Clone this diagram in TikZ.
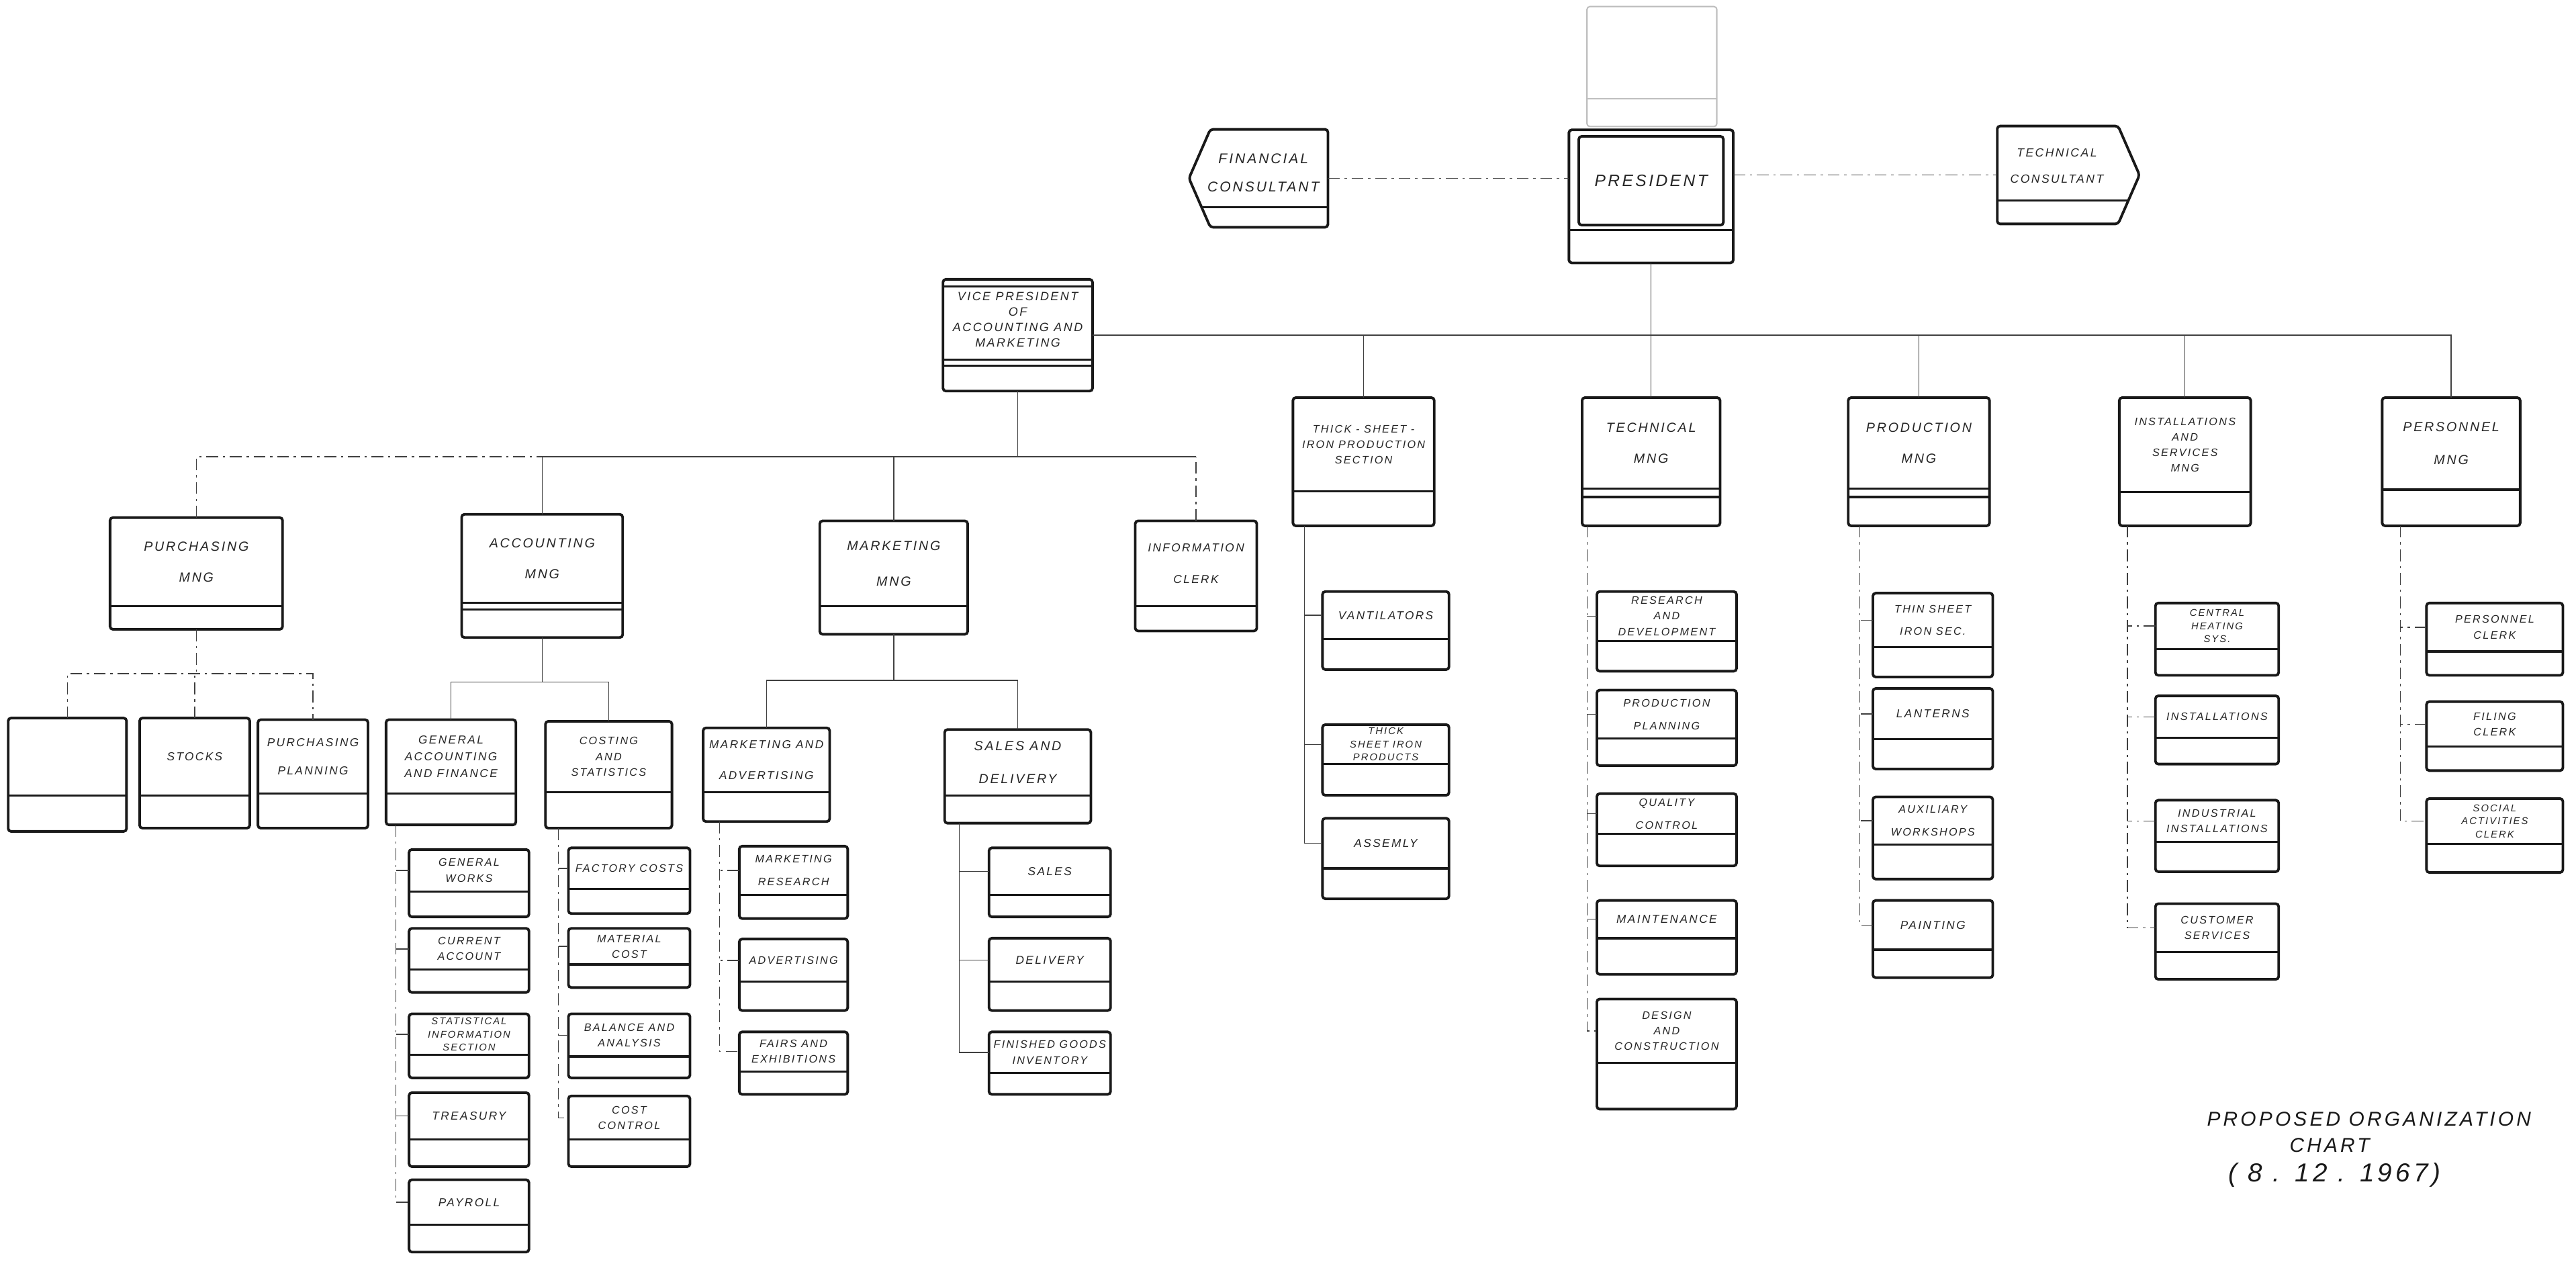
\documentclass[tikz,border=0pt]{standalone}
\usepackage{fontspec}
\newfontfamily\hand[LetterSpace=14]{Liberation Sans}
\usetikzlibrary{calc}
\newcommand\fs[2]{\fontsize{#1}{#2}\selectfont}
\tikzset{
  boxl/.style={line width=1.1pt, rounded corners=1.2pt, draw=black!90},
  obox/.style={boxl, rectangle, inner sep=0pt, outer sep=0pt},
  divl/.style={line width=0.9pt, black!90},
  conn/.style={line width=0.4pt, black!75},
  dconn/.style={conn, dash pattern=on 5pt off 2pt on 1pt off 2pt},
  lbl/.style={font=\hand\itshape\fs{5.6}{8}, align=center, inner sep=0pt, text=black!85},
  szs/.style={font=\hand\itshape\fs{4.9}{7.2}},
  szv/.style={font=\hand\itshape\fs{4.6}{6.6}},
  szt/.style={font=\hand\itshape\fs{4.2}{5.5}},
  ttl/.style={font=\hand\itshape\fs{8.5}{10}, inner sep=0pt, text=black!90},
}
% optional node options, name, x1, y1, x2, y2, divider y, text
\newcommand\obox[8][]{%
  \node[obox, minimum width={(#5-#3)*0.24464mm}, minimum height={(#6-#4)*0.24464mm}] (#2) at ({(#3+#5)/2},{(#4+#6)/2}) {};
  \draw[divl] (#3,#7) -- (#5,#7);
  \node[lbl,#1] (#2t) at ({(#3+#5)/2},{(#4+#7)/2}) {#8};
}
% trunk from parent (x offset from its left) down to last child
\newcommand\strunk[4][conn]{\draw[#1] ($(#2.south west)+(#3,0)$) |- (#4t -| #4.west);}
\newcommand\sbranch[3][conn]{\draw[#1] (#2t -| #2.west) -- ++(-#3,0);}
\begin{document}
\begin{tikzpicture}[x=0.24464mm,y=-0.24464mm]
\fill[white] (0,0) rectangle (1568,768);
\useasboundingbox (0,0) rectangle (1568,768);

% ---------- top ----------
\node[obox, draw=black!25, line width=0.6pt, minimum width={79*0.24464mm}, minimum height={73*0.24464mm}] (top0) at (1005.5,40.5) {};
\draw[black!25, line width=0.6pt] (966,60) -- (1045,60);

\node[obox, minimum width={100*0.24464mm}, minimum height={81*0.24464mm}] (pres) at (1005,119.5) {};
\draw[boxl] (961,83) rectangle (1049,137);
\draw[divl] (955,140) -- (1055,140);
\node[lbl, font=\hand\itshape\fs{7}{8}] (prest) at (1005,110) {PRESIDENT};

\node[inner sep=0pt, minimum width={84*0.24464mm}, minimum height={59*0.24464mm}] (fin) at (766,108.5) {};
\draw[boxl] (fin.west) -- ($(fin.north west)+(13,0)$) -- (fin.north east) -- (fin.south east) -- ($(fin.south west)+(13,0)$) -- cycle;
\draw[divl] (732,126) -- (808,126);
\node[lbl, font=\hand\itshape\fs{6}{8}] (fint) at (769,105) {FINANCIAL\\[4pt]CONSULTANT};

\node[inner sep=0pt, minimum width={86*0.24464mm}, minimum height={59*0.24464mm}] (techc) at (1259,106.5) {};
\draw[boxl] (techc.north west) -- ($(techc.north east)+(-13,0)$) -- (techc.east) -- ($(techc.south east)+(-13,0)$) -- (techc.south west) -- cycle;
\draw[divl] (1216,122) -- (1295,122);
\node[lbl, font=\hand\itshape\fs{5}{7}] (techct) at (1252,101) {TECHNICAL\\[4pt]CONSULTANT};

\draw[dconn] (fin.east) -- (fin.east -| pres.west);
\draw[dconn] (techc.west -| pres.east) -- (techc.west);

% ---------- vice president ----------
\obox[font=\hand\itshape\fs{5.1}{6.5}]{vp}{574}{170}{665}{238}{219}{VICE PRESIDENT\\OF\\ACCOUNTING AND\\MARKETING}
\draw[divl] (574,174.5) -- (665,174.5);
\draw[divl] (574,222.5) -- (665,222.5);

% ---------- second row (right) ----------
\obox[szv]{thick}{787}{242}{873}{320}{299}{THICK - SHEET -\\IRON PRODUCTION\\SECTION}
\obox{tech}{963}{242}{1047}{320}{297.5}{TECHNICAL\\[5pt]MNG}
\draw[divl] (963,302.5) -- (1047,302.5);
\obox{prod}{1125}{242}{1211}{320}{297.5}{PRODUCTION\\[5pt]MNG}
\draw[divl] (1125,302.5) -- (1211,302.5);
\obox[szv]{inst}{1290}{242}{1370}{320}{299.5}{INSTALLATIONS\\AND\\SERVICES\\MNG}
\obox{pers}{1450}{242}{1534}{320}{298}{PERSONNEL\\[6pt]MNG}

\draw[conn] (vp.east) -- (vp.east -| pers.north) -- (pers.north);
\draw[conn] (pres.south) -- (tech.north);
\foreach \n in {thick,prod,inst} \draw[conn] (\n.north) -- (\n.north |- vp.east);

% ---------- VP children ----------
\obox{pur}{67}{315}{172}{383}{369}{PURCHASING\\[5pt]MNG}
\obox{acc}{281}{313}{379}{388}{367}{ACCOUNTING\\[5pt]MNG}
\draw[divl] (281,371) -- (379,371);
\obox{mkt}{499}{317}{589}{386}{369}{MARKETING\\[7pt]MNG}
\obox[szs]{info}{691}{317}{765}{384}{369}{INFORMATION\\[6pt]CLERK}

\draw[conn] (vp.south) -- ++(0,40) coordinate (vbus);
\draw[dconn] (pur.north) |- (acc.north |- vbus);
\draw[conn] (acc.north |- vbus) -- (info.north |- vbus);
\draw[conn] (acc.north) -- (acc.north |- vbus);
\draw[conn] (mkt.north) -- (mkt.north |- vbus);
\draw[dconn] (info.north) -- (info.north |- vbus);

% ---------- purchasing children ----------
\obox{b1}{5}{437}{77}{506}{484}{}
\obox[szs]{b2}{85}{437}{152}{504}{484}{STOCKS}
\obox[szs]{b3}{157}{438}{224}{504}{483}{PURCHASING\\[5pt]PLANNING}
\draw[dconn] (pur.south) -- ++(0,27) coordinate (pbus);
\draw[dconn] (b1.north) |- (b3.north |- pbus) -- (b3.north);
\draw[dconn] (b2.north) -- (b2.north |- pbus);

% ---------- accounting children ----------
\obox[szs]{ga}{235}{438}{314}{502}{483}{GENERAL\\ACCOUNTING\\AND FINANCE}
\obox[szv]{cs}{332}{439}{409}{504}{482}{COSTING\\AND\\STATISTICS}
\draw[conn] (acc.south) -- ++(0,27) coordinate (abus);
\draw[conn] (ga.north) |- (cs.north |- abus) -- (cs.north);

\obox[szv]{g1}{249}{517}{322}{558}{542.5}{GENERAL\\WORKS}
\obox[szv]{g2}{249}{565}{322}{604}{590}{CURRENT\\ACCOUNT}
\obox[szt]{g3}{249}{617}{322}{656}{642}{STATISTICAL\\INFORMATION\\SECTION}
\obox[szs]{g4}{249}{665}{322}{710}{693.5}{TREASURY}
\obox[szs]{g5}{249}{718}{322}{762}{745.5}{PAYROLL}
\strunk[dconn]{ga}{6}{g5}
\foreach \c in {g1,g2,g3,g4} {\sbranch{\c}{8}}

\obox[szv]{c1}{346}{516}{420}{556}{541}{FACTORY COSTS}
\obox[szv]{c2}{346}{565}{420}{601}{587}{MATERIAL\\COST}
\obox[szv]{c3}{346}{617}{420}{656}{643}{BALANCE AND\\ANALYSIS}
\obox[szv]{c4}{346}{667}{420}{710}{693.5}{COST\\CONTROL}
\strunk[dconn]{cs}{8}{c4}
\foreach \c in {c1,c2,c3} {\sbranch{\c}{6}}

% ---------- marketing children ----------
\obox[szs]{ma}{428}{443}{505}{500}{482}{MARKETING AND\\[6pt]ADVERTISING}
\obox{sd}{575}{444}{664}{501}{484}{SALES AND\\[6pt]DELIVERY}
\draw[conn] (mkt.south) -- ++(0,28) coordinate (mbus);
\draw[conn] (ma.north) |- (sd.north |- mbus) -- (sd.north);

\obox[szv]{m1}{450}{515}{516}{559}{544.5}{MARKETING\\[3pt]RESEARCH}
\obox[szv]{m2}{450}{571.5}{516}{615}{597.5}{ADVERTISING}
\obox[szv]{m3}{450}{628}{516}{666}{652}{FAIRS AND\\EXHIBITIONS}
\strunk[dconn]{ma}{10}{m3}
\foreach \c in {m1,m2} {\sbranch[dconn]{\c}{12}}

\obox[szs]{s1}{602}{516}{676}{558}{544.5}{SALES}
\obox[szs]{s2}{602}{571}{676}{615}{597.5}{DELIVERY}
\obox[szv]{s3}{602}{628}{676}{666}{653}{FINISHED GOODS\\INVENTORY}
\strunk{sd}{9}{s3}
\foreach \c in {s1,s2} {\sbranch{\c}{18}}

% ---------- thick sheet children ----------
\obox[szs]{v1}{805}{360}{882}{407.5}{389}{VANTILATORS}
\obox[szt]{v2}{805}{441}{882}{484}{465}{THICK\\SHEET IRON\\PRODUCTS}
\obox[szs]{v3}{805}{498}{882}{547}{528.5}{ASSEMLY}
\strunk{thick}{7}{v3}
\foreach \c in {v1,v2} {\sbranch{\c}{11}}

% ---------- technical children ----------
\obox[szv]{t1}{972}{360}{1057}{408.5}{390}{RESEARCH\\AND\\DEVELOPMENT}
\obox[szv]{t2}{972}{420}{1057}{466}{449.5}{PRODUCTION\\[3pt]PLANNING}
\obox[szv]{t3}{972}{483}{1057}{527}{507.5}{QUALITY\\[3pt]CONTROL}
\obox[szs]{t4}{972}{548}{1057}{593}{571}{MAINTENANCE}
\obox[szv]{t5}{972}{608}{1057}{675}{647}{DESIGN\\AND\\CONSTRUCTION}
\strunk[dconn]{tech}{3}{t5}
\foreach \c in {t1,t2,t3,t4} {\sbranch{\c}{6}}

% ---------- production children ----------
\obox[szv]{p1}{1140}{361}{1213}{412}{394}{THIN SHEET\\[3pt]IRON SEC.}
\obox[szs]{p2}{1140}{419}{1213}{468}{450}{LANTERNS}
\obox[szv]{p3}{1140}{485}{1213}{535}{514}{AUXILIARY\\[3pt]WORKSHOPS}
\obox[szs]{p4}{1140}{548}{1213}{595}{578}{PAINTING}
\strunk[dconn]{prod}{7}{p4}
\foreach \c in {p1,p2,p3} {\sbranch[dconn]{\c}{8}}

% ---------- installations children ----------
\obox[szt]{i1}{1312}{367}{1387}{411}{395}{CENTRAL\\HEATING\\SYS.}
\obox[szv]{i2}{1312}{423.5}{1387}{465}{449}{INSTALLATIONS}
\obox[szv]{i3}{1312}{487}{1387}{530.5}{512.5}{INDUSTRIAL\\INSTALLATIONS}
\obox[szv]{i4}{1312}{550}{1387}{596}{579.5}{CUSTOMER\\SERVICES}
\strunk[dconn]{inst}{5}{i4}
\foreach \c in {i1,i2,i3} {\sbranch[dconn]{\c}{17}}

% ---------- personnel children ----------
\obox[szv]{e1}{1477}{367}{1560}{411}{396.5}{PERSONNEL\\CLERK}
\obox[szv]{e2}{1477}{427}{1560}{469}{454.5}{FILING\\CLERK}
\obox[szt]{e3}{1477}{486}{1560}{531}{513.5}{SOCIAL\\ACTIVITIES\\CLERK}
\strunk[dconn]{pers}{11}{e3}
\foreach \c in {e1,e2} {\sbranch[dconn]{\c}{16}}

% ---------- title ----------
\node[ttl] (tt1) at (1442,681) {PROPOSED ORGANIZATION};
\node[ttl] (tt2) at (1418,697) {CHART};
\node[ttl, font=\hand\itshape\fs{11}{12}] (tt3) at (1421,715) {( 8 . 12 . 1967)};
\end{tikzpicture}
\end{document}
